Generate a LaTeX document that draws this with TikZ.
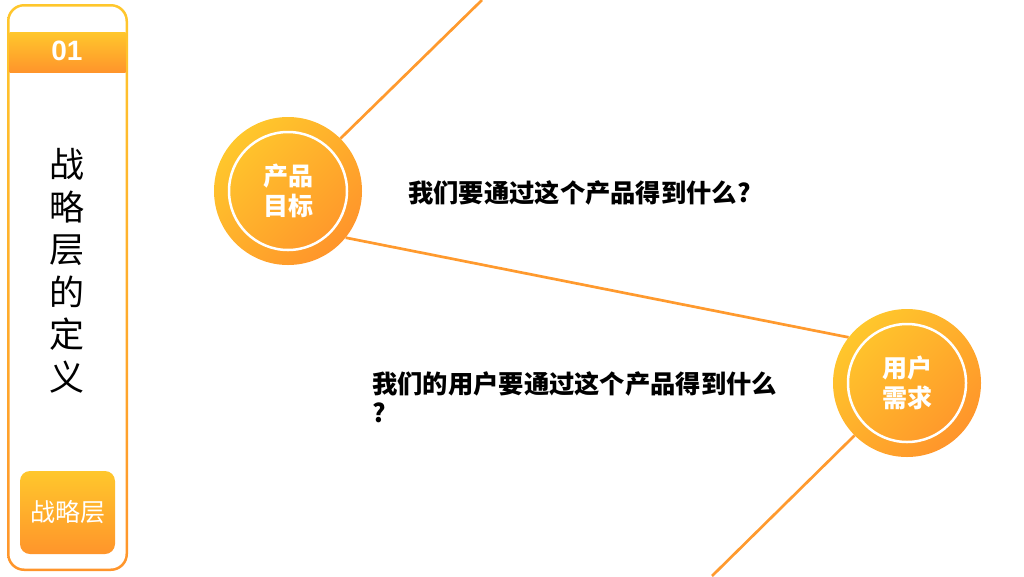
\documentclass[tikz,border=0pt]{standalone}
\usepackage{fontspec}
\setmainfont{Noto Sans CJK SC}
\newfontfamily\latin{Liberation Sans}
\definecolor{amber}{HTML}{FFC72C}
\definecolor{tangerine}{HTML}{FF952B}
\definecolor{lineorange}{HTML}{FF9A2E}
\tikzset{
  badge/.style={circle,minimum size=148pt,inner sep=0pt,top color=amber,bottom color=tangerine,shading angle=45,text=white,align=center,font=\fontsize{25}{30}\selectfont\bfseries},
  ring/.style={draw=white,line width=2.5pt},
  link/.style={draw=lineorange,line width=2.7pt},
  ask/.style={anchor=west,align=left,inner sep=0pt,font=\fontsize{25.3}{29}\selectfont\bfseries},
  tab/.style={minimum width=95pt,minimum height=83pt,rounded corners=10pt,top color=amber,bottom color=tangerine,text=white,font=\fontsize{25}{25}\selectfont}
}

\begin{document}
\begin{tikzpicture}[x=1pt,y=-1pt]
\useasboundingbox (0,0) rectangle (1024,576);

% left panel
\shade[top color=amber,bottom color=tangerine,rounded corners=17pt] (7,4) rectangle (128,571);
\fill[white,rounded corners=15pt] (9.5,6.5) rectangle (125.5,568.5);
\shade[top color=amber,bottom color=tangerine] (9.5,32) rectangle (125.5,72);
\node[text=white,font=\latin\fontsize{28}{28}\selectfont\bfseries] (num) at (67,51) {01};
\node[align=center,font=\fontsize{35}{42.5}\selectfont] (title) at (67,271) {战\\略\\层\\的\\定\\义};
\node[tab] (layer) at (67.5,512.5) {战略层};

% circles
\node[badge] (goal) at (288,191) {产品\\目标};
\node[badge] (need) at (907,383) {用户\\需求};
\draw[ring] (goal) circle (59);
\draw[ring] (need) circle (59);

\coordinate (topend) at (482,0);
\coordinate (botend) at (712,576);
\draw[link] (goal.45) -- (topend);
\draw[link] (goal.-39) -- (need.142);
\draw[link] (need.-135) -- (botend);

\node[ask] (q1) at (408,193) {我们要通过这个产品得到什么?};
\node[ask,anchor=north west] (q2) at (372,371) {我们的用户要通过这个产品得到什么\\?};
\end{tikzpicture}
\end{document}
